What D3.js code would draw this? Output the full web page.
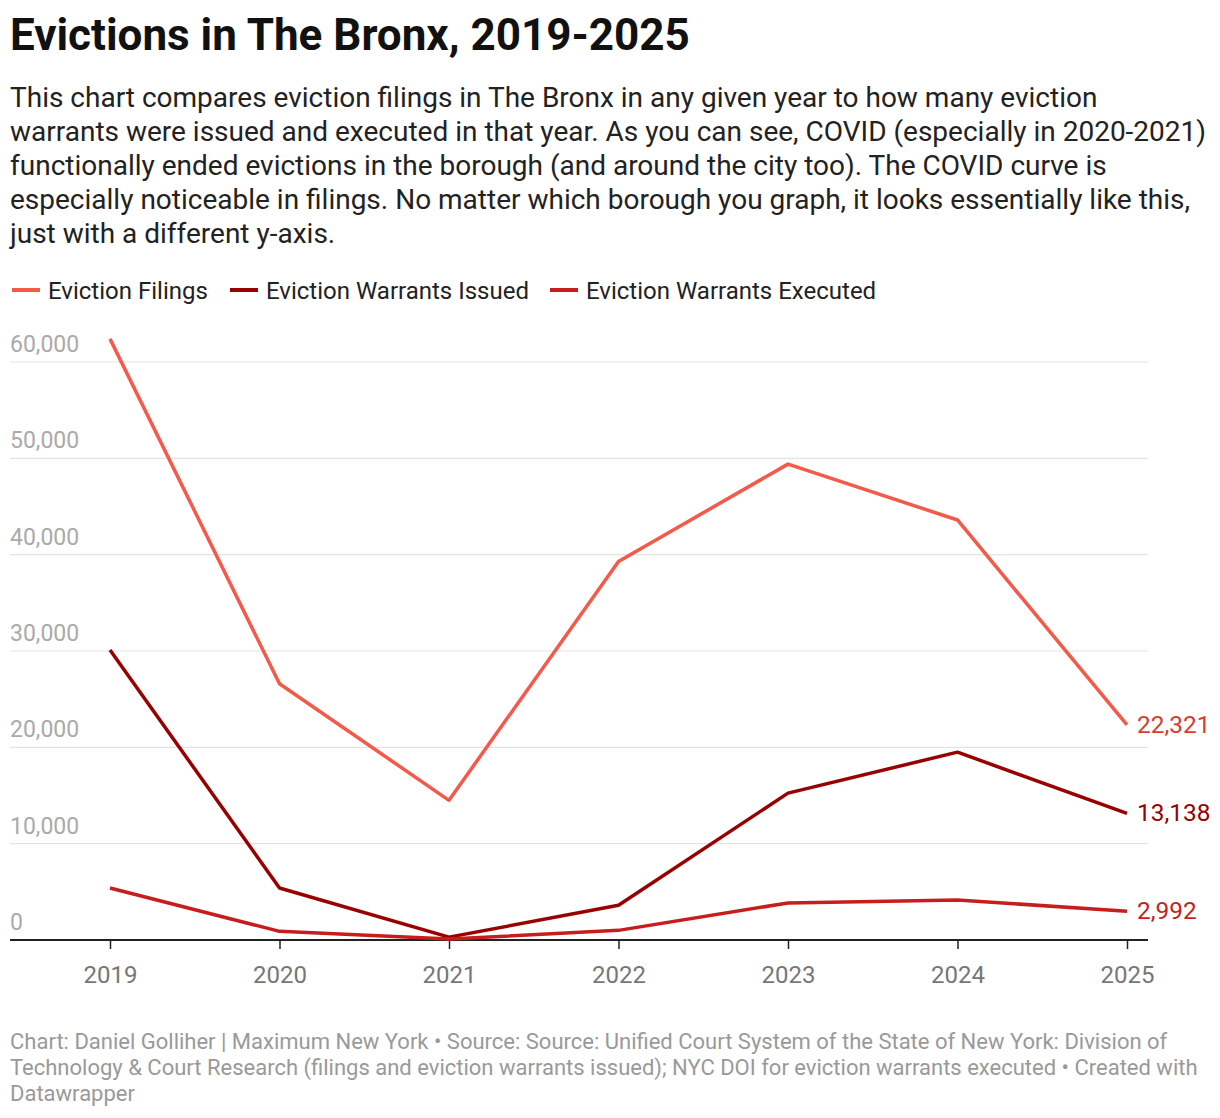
<!DOCTYPE html>
<html><head><meta charset="utf-8">
<script src="https://cdn.jsdelivr.net/npm/d3@7"></script>
<style>
body{margin:0;background:#fff;font-family:Roboto,"Noto Sans",sans-serif;}
svg text{font-family:Roboto,"Noto Sans",sans-serif;}
</style></head>
<body><svg id="c" width="1220" height="1118"></svg>
<script>
const years = [2019, 2020, 2021, 2022, 2023, 2024, 2025];
const filings = [62400, 26600, 14500, 39300, 49400, 43600, 22321];
const warrantsIssued = [30100, 5400, 300, 3600, 15250, 19500, 13138];
const warrantsExecuted = [5400, 900, 100, 1000, 3850, 4150, 2992];
const seriesNames = ["Eviction Filings", "Eviction Warrants Issued", "Eviction Warrants Executed"];
const seriesColors = ["#f4594a", "#990000", "#c71e1d"];
const labelColors = ["#db3a2f", "#990000", "#c71e1d"];
const yTicks = [0, 10000, 20000, 30000, 40000, 50000, 60000];
const title = "Evictions in The Bronx, 2019-2025";
const subtitleLines = [
 "This chart compares eviction filings in The Bronx in any given year to how many eviction",
 "warrants were issued and executed in that year. As you can see, COVID (especially in 2020-2021)",
 "functionally ended evictions in the borough (and around the city too). The COVID curve is",
 "especially noticeable in filings. No matter which borough you graph, it looks essentially like this,",
 "just with a different y-axis."
];
const footerLines = [
 "Chart: Daniel Golliher | Maximum New York • Source: Source: Unified Court System of the State of New York: Division of",
 "Technology & Court Research (filings and eviction warrants issued); NYC DOI for eviction warrants executed • Created with",
 "Datawrapper"
];

const svg = d3.select("#c");
svg.append("text").attr("x", 10).attr("y", 50).attr("font-size", 44).attr("font-weight", 700).attr("fill", "#111").text(title);
svg.append("g").selectAll("text").data(subtitleLines).join("text")
  .attr("x", 10).attr("y", (d, i) => 107 + i * 34).attr("font-size", 28).attr("fill", "#222").text(d => d);

// legend
const legendX = [12, 230, 550];
const lg = svg.append("g").selectAll("g").data(seriesNames).join("g")
  .attr("transform", (d, i) => `translate(${legendX[i]},290)`);
lg.append("line").attr("x1", 0).attr("x2", 28).attr("y1", 0).attr("y2", 0)
  .attr("stroke", (d, i) => seriesColors[i]).attr("stroke-width", 4);
lg.append("text").attr("x", 36).attr("y", 8.5).attr("font-size", 24).attr("fill", "#222").text(d => d);

const x = d3.scalePoint().domain(years).range([110, 1127]);
const y = d3.scaleLinear().domain([0, 60000]).range([940, 362]);

// grid
const grid = svg.append("g");
grid.selectAll("line").data(yTicks.filter(t => t > 0)).join("line")
  .attr("x1", 10).attr("x2", 1148).attr("y1", d => y(d)).attr("y2", d => y(d))
  .attr("stroke", "#e3e3e3").attr("stroke-width", 1.2);
grid.selectAll("text").data(yTicks).join("text")
  .attr("x", 10).attr("y", d => y(d) - 10).attr("font-size", 23).attr("fill", "#aaaaaa")
  .text(d => d3.format(",")(d));

// x axis
const xAxis = svg.append("g").attr("transform", "translate(0,940)")
  .call(d3.axisBottom(x).tickSize(9).tickPadding(17).tickFormat(d => String(d)));
xAxis.select(".domain").remove();
xAxis.selectAll(".tick line").attr("stroke", "#222").attr("stroke-width", 1.5);
xAxis.selectAll(".tick text").attr("font-size", 24).attr("fill", "#777").attr("font-family", "Roboto");
svg.append("line").attr("x1", 10).attr("x2", 1148).attr("y1", 940).attr("y2", 940)
  .attr("stroke", "#222").attr("stroke-width", 2);

// lines
const data = [filings, warrantsIssued, warrantsExecuted];
const line = d3.line().x((d, i) => x(years[i])).y(d => y(d));
svg.append("g").selectAll("path").data(data).join("path")
  .attr("d", line).attr("fill", "none")
  .attr("stroke", (d, i) => seriesColors[i]).attr("stroke-width", 3.5)
  .attr("stroke-linejoin", "round");

// end labels
svg.append("g").selectAll("text").data(data).join("text")
  .attr("x", x(2025) + 10).attr("y", d => y(d[d.length - 1]) + 8)
  .attr("font-size", 24.4).attr("fill", (d, i) => labelColors[i])
  .text(d => d3.format(",")(d[d.length - 1]));

// footer
svg.append("g").selectAll("text").data(footerLines).join("text")
  .attr("x", 10).attr("y", (d, i) => 1049 + i * 26).attr("font-size", 22).attr("fill", "#999")
  .text(d => d);
</script></body></html>
